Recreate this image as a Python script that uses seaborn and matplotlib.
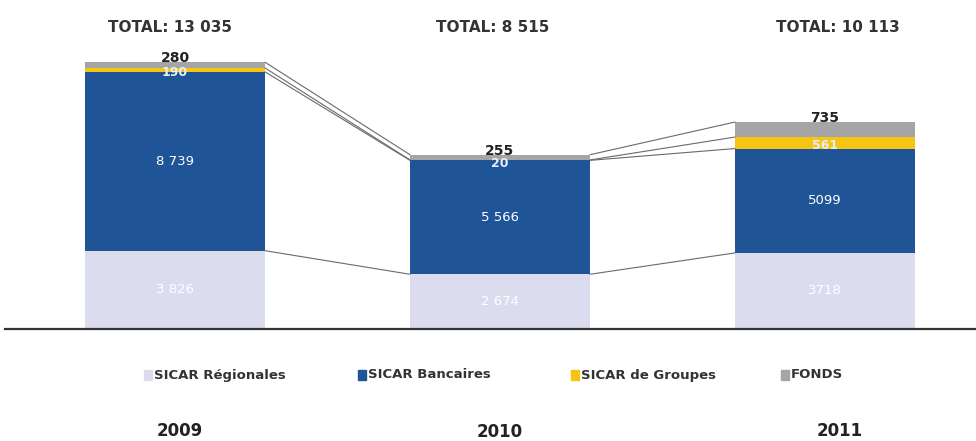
import matplotlib
matplotlib.use("Agg")
import matplotlib.pyplot as plt
import seaborn as sns
import numpy as np
import pandas as pd

years = ["2009", "2010", "2011"]
series = ["SICAR Régionales", "SICAR Bancaires", "SICAR de Groupes", "FONDS"]
regionales = [3826, 2674, 3718]
bancaires = [8739, 5566, 5099]
groupes = [190, 20, 561]
fonds = [280, 255, 735]
totals = [13035, 8515, 10113]
regionales_lbl = ["3 826", "2 674", "3718"]
bancaires_lbl = ["8 739", "5 566", "5099"]
groupes_lbl = ["190", "20", "561"]
fonds_lbl = ["280", "255", "735"]
total_lbl = ["TOTAL: 13 035", "TOTAL: 8 515", "TOTAL: 10 113"]

colors = ["#dcdcef", "#1f5597", "#f6c412", "#a5a5a5"]

sns.set_theme(style="white")
plt.rcParams["font.family"] = ["DejaVu Sans"]

W, H = 976, 441
fig = plt.figure(figsize=(W / 100, H / 100), dpi=100)
ax_left, ax_right = 5, 976
ax_bottom = H - 329
ax_height = 307
ax = fig.add_axes([ax_left / W, ax_bottom / H, (ax_right - ax_left) / W, ax_height / H])

layers = [regionales, bancaires, groupes, fonds]
cum = np.cumsum(np.array(layers, dtype=float), axis=0)
bw = 180 / 325

# draw from top layer down so each cumulative bar overlays the previous
for k in range(3, -1, -1):
    df = pd.DataFrame({"year": years, "value": cum[k]})
    sns.barplot(data=df, x="year", y="value", color=colors[k], saturation=1,
                width=bw, ax=ax, errorbar=None, linewidth=0)

# connector lines
for i in range(2):
    for k in range(4):
        ax.plot([i + bw / 2, i + 1 - bw / 2], [cum[k][i], cum[k][i + 1]],
                color="#6a6a6a", lw=0.8, zorder=1)

# value labels
for i in range(3):
    ax.text(i, regionales[i] / 2, regionales_lbl[i], ha="center", va="center",
            color="white", fontsize=9.5)
    ax.text(i, cum[0][i] + bancaires[i] / 2, bancaires_lbl[i], ha="center", va="center",
            color="white", fontsize=9.5)
    ax.text(i, cum[1][i] + groupes[i] / 2 - 150, groupes_lbl[i], ha="center", va="center",
            color="#e8eef8", fontsize=9, fontweight="bold")
    ax.text(i, cum[3][i] + 200, fonds_lbl[i], ha="center", va="center",
            color="#222222", fontsize=10, fontweight="bold")

ax.set_xlim(-(170) / 325, 2 + (976 - 825) / 325)
ax.set_ylim(0, 15000)
ax.set_xlabel("")
ax.set_ylabel("")
ax.set_xticks([])
ax.set_yticks([])
for s in ["top", "right", "left"]:
    ax.spines[s].set_visible(False)
ax.spines["bottom"].set_color("#333333")
ax.spines["bottom"].set_linewidth(1.6)

# totals
total_x = [170, 493, 838]
for x, t in zip(total_x, total_lbl):
    fig.text(x / W, 1 - 27 / H, t, ha="center", va="center", fontsize=11,
             fontweight="bold", color="#333333")

# years
year_pos = [(180, 431), (500, 432), (840, 431)]
for (x, y), t in zip(year_pos, years):
    fig.text(x / W, 1 - y / H, t, ha="center", va="center", fontsize=12,
             fontweight="bold", color="#222222")

# legend
leg_x = [148, 362, 575, 785]
for x, name, c in zip(leg_x, series, colors):
    fig.patches.append(plt.Rectangle(((x - 4) / W, 1 - 380 / H), 8 / W, 10 / H,
                                     transform=fig.transFigure, color=c, figure=fig))
    fig.text((x + 6) / W, 1 - 375 / H, name, ha="left", va="center", fontsize=9.5,
             fontweight="bold", color="#333333")

fig.savefig("out.png", dpi=100)
